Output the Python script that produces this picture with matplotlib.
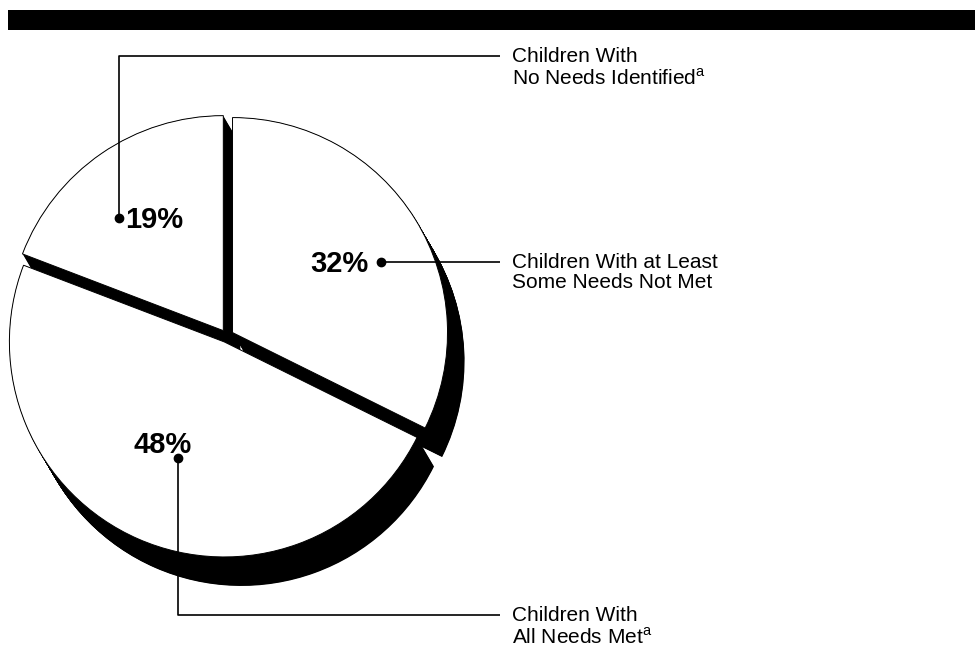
import numpy as np
import matplotlib
matplotlib.use('Agg')
import matplotlib.pyplot as plt

plt.rcParams['font.family'] = ['Liberation Sans', 'DejaVu Sans']
plt.rcParams['mathtext.fontset'] = 'custom'
plt.rcParams['mathtext.rm'] = 'Liberation Sans'

# slice order: clockwise from 12 o'clock
shares = [32, 48, 19]
pct_labels = ['32%', '48%', '19%']
names = ['Children With at Least\nSome Needs Not Met',
         'Children With\nAll Needs Met$^\\mathrm{a}$',
         'Children With\nNo Needs Identified$^\\mathrm{a}$']

W, H = 975, 656

def Y(y):
    # pixel row -> data y (axis runs bottom-up)
    return H - y

fig = plt.figure(figsize=(W / 100, H / 100), dpi=100)
ax = fig.add_axes([0, 0, 1, 1])

# pie geometry in pixels (explode is in data units, not a fraction)
cx, cy, R = 227, 336, 215
explode = [6.5] * 3
dx, dy = 17, 29  # depth of the 3-d extrusion

# extruded side of the disc: stack of black copies
for t in np.linspace(0, 1, 60):
    ax.pie(shares, center=(cx + t * dx, Y(cy + t * dy)), radius=R,
           colors=['black'] * 3, startangle=90, counterclock=False,
           explode=explode, wedgeprops=dict(linewidth=0))

# top face
ax.pie(shares, center=(cx, Y(cy)), radius=R, colors=['white'] * 3,
       startangle=90, counterclock=False, explode=explode,
       wedgeprops=dict(edgecolor='black', linewidth=0.7))

# black band at the top
ax.axhspan(Y(30), Y(10), xmin=8 / W, xmax=1, color='black', lw=0)

line_kw = dict(color='black', lw=1.2, solid_capstyle='butt', zorder=5)
dot_kw = dict(marker='o', ms=6, color='black', zorder=6)
pct_kw = dict(fontsize=21, fontweight='bold', zorder=6)
name_kw = dict(fontsize=15, ha='left', va='top', linespacing=1.1, zorder=6)
x_end, x_text = 500, 512

# 32%
ax.plot([381, x_end], [Y(262), Y(262)], **line_kw)
ax.plot(381, Y(262), **dot_kw)
ax.text(369, Y(264), pct_labels[0], ha='right', va='center', **pct_kw)
ax.text(x_text, Y(253), names[0], **name_kw)

# 48%
ax.plot([178, 178, x_end], [Y(458), Y(615), Y(615)], **line_kw)
ax.plot(178, Y(458), **dot_kw)
ax.text(134, Y(445), pct_labels[1], ha='left', va='center', **pct_kw)
ax.text(x_text, Y(606), names[1], **name_kw)

# 19%
ax.plot([119, 119, x_end], [Y(218), Y(56), Y(56)], **line_kw)
ax.plot(119, Y(218), **dot_kw)
ax.text(125, Y(220), pct_labels[2], ha='left', va='center', **pct_kw)
ax.text(x_text, Y(47), names[2], **name_kw)

ax.set_xlim(0, W)
ax.set_ylim(0, H)
ax.set_aspect('auto')
ax.axis('off')

fig.savefig('out.png', dpi=100, facecolor='white')
